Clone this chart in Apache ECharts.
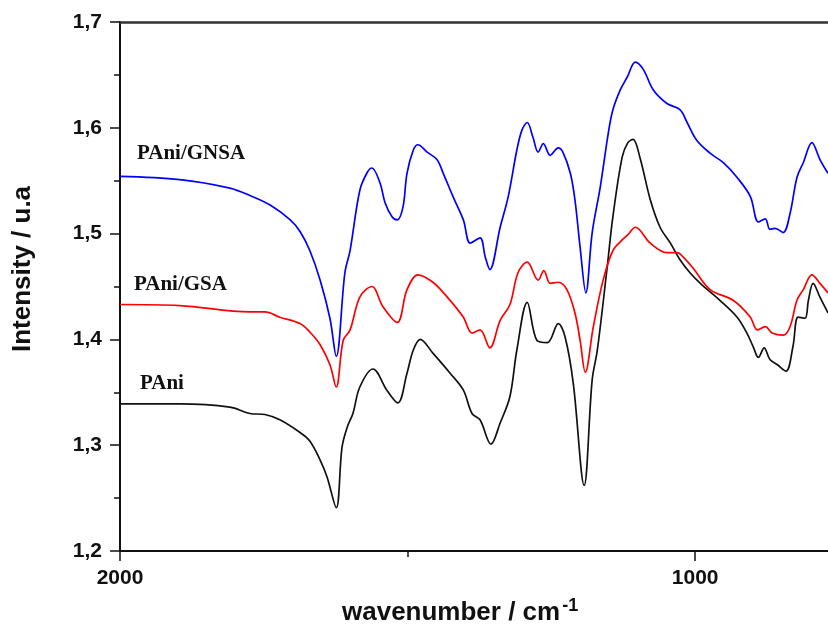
<!DOCTYPE html>
<html>
<head>
<meta charset="utf-8">
<script src="https://cdn.jsdelivr.net/npm/echarts@6/dist/echarts.min.js"></script>
<style>html,body{margin:0;padding:0;background:#fff}#c{width:828px;height:630px}</style>
</head>
<body>
<div id="c"></div>
<script>
// PAni/GNSA (blue)
const gnsaWn = [2000,1896,1809,1774,1739,1704,1687,1670,1652,1635,1624,1609,1600,1583,1570,1562,1548,1539,1527,1518,1508,1501,1490,1482,1466,1449,1438,1421,1403,1391,1374,1365,1357,1339,1325,1310,1301,1292,1282,1273,1264,1252,1238,1230,1217,1209,1200,1190,1179,1165,1151,1143,1130,1118,1104,1090,1073,1049,1026,1014,997,974,951,927,904,890,878,870,861,847,835,823,812,797,783,769];
const gnsaI  = [1.554,1.551,1.543,1.536,1.527,1.513,1.502,1.484,1.456,1.420,1.384,1.463,1.484,1.541,1.558,1.562,1.548,1.529,1.516,1.513,1.525,1.557,1.579,1.584,1.577,1.570,1.557,1.535,1.513,1.491,1.496,1.478,1.466,1.506,1.535,1.579,1.598,1.605,1.591,1.577,1.585,1.574,1.581,1.577,1.557,1.532,1.487,1.444,1.501,1.544,1.595,1.617,1.636,1.648,1.662,1.655,1.636,1.623,1.617,1.605,1.588,1.576,1.567,1.553,1.535,1.511,1.514,1.504,1.505,1.501,1.519,1.553,1.567,1.586,1.570,1.557];
// PAni/GSA (red)
const gsaWn = [2000,1896,1774,1748,1722,1687,1670,1652,1635,1624,1612,1600,1583,1562,1543,1518,1501,1482,1456,1431,1403,1388,1374,1357,1339,1322,1308,1292,1273,1263,1252,1238,1223,1209,1200,1191,1177,1160,1143,1127,1117,1104,1078,1049,1031,1021,1003,974,934,904,892,878,866,847,835,823,812,797,783,769];
const gsaI  = [1.433,1.432,1.426,1.426,1.421,1.415,1.407,1.395,1.376,1.355,1.399,1.409,1.440,1.450,1.431,1.416,1.447,1.461,1.454,1.440,1.421,1.406,1.409,1.392,1.418,1.433,1.463,1.473,1.456,1.465,1.453,1.454,1.447,1.425,1.399,1.369,1.412,1.456,1.484,1.494,1.499,1.506,1.491,1.482,1.482,1.478,1.467,1.447,1.437,1.421,1.409,1.412,1.406,1.404,1.412,1.437,1.447,1.461,1.453,1.444];
// PAni (black)
const paniWn = [2000,1896,1809,1774,1748,1722,1687,1670,1652,1640,1624,1614,1605,1595,1583,1560,1536,1517,1501,1490,1478,1456,1426,1403,1388,1374,1355,1339,1322,1310,1292,1275,1257,1238,1226,1212,1193,1179,1170,1153,1143,1127,1117,1108,1096,1078,1061,1043,1026,1009,991,957,927,910,899,890,880,870,857,842,830,821,809,803,795,783,769];
const paniI  = [1.339,1.339,1.336,1.330,1.329,1.324,1.312,1.304,1.286,1.270,1.241,1.298,1.317,1.330,1.355,1.372,1.352,1.340,1.368,1.390,1.400,1.387,1.368,1.352,1.330,1.324,1.301,1.321,1.346,1.390,1.435,1.399,1.397,1.415,1.402,1.359,1.262,1.362,1.390,1.468,1.516,1.572,1.586,1.589,1.572,1.532,1.506,1.491,1.475,1.463,1.453,1.437,1.421,1.406,1.393,1.383,1.392,1.381,1.376,1.370,1.393,1.421,1.420,1.437,1.453,1.440,1.425];
const yTicks = [1.2,1.3,1.4,1.5,1.6,1.7];
const xMajor = [2000,1000];
const xMinor = [1500];
const xRange = [769,2000];
const seriesNames = ['PAni/GNSA','PAni/GSA','PAni'];

const pairs = (a,b) => a.map((v,i)=>[v,b[i]]);
const chart = echarts.init(document.getElementById('c'), null, {renderer:'canvas'});
const axisFont = {fontFamily:'Liberation Sans, Arial, sans-serif', fontWeight:'bold', fontSize:21, color:'#111'};
const lbl = (t,x,y)=>({type:'text', left:x, top:y, style:{text:t, font:"bold 21px 'Liberation Serif', 'Times New Roman', serif", fill:'#111'}});
chart.setOption({
  animation:false,
  backgroundColor:'#fff',
  grid:{left:120, top:22, right:0, bottom:79},
  xAxis:[{
    type:'value', inverse:true, min:xRange[0], max:xRange[1],
    axisLine:{onZero:false, lineStyle:{color:'#111', width:2}},
    axisTick:{show:true, length:10, customValues:xMajor, lineStyle:{color:'#111', width:1.5}},
    axisLabel:Object.assign({margin:17, customValues:xMajor, formatter:v=>String(v)}, axisFont),
    splitLine:{show:false}
  },{
    type:'value', inverse:true, min:xRange[0], max:xRange[1], position:'bottom',
    axisLine:{show:false, onZero:false},
    axisTick:{show:true, length:6, customValues:xMinor, lineStyle:{color:'#111', width:1.5}},
    axisLabel:{show:false}, splitLine:{show:false}
  },{
    type:'value', inverse:true, min:xRange[0], max:xRange[1], position:'top',
    axisLine:{onZero:false, lineStyle:{color:'#333', width:2.5}},
    axisTick:{show:false}, axisLabel:{show:false}, splitLine:{show:false}
  }],
  yAxis:{
    type:'value', min:1.2, max:1.7, interval:0.1,
    axisLine:{show:true, onZero:false, lineStyle:{color:'#111', width:2}},
    axisTick:{show:true, length:10, lineStyle:{color:'#111', width:1.5}},
    minorTick:{show:true, splitNumber:2, length:6, lineStyle:{color:'#111', width:1.5}},
    axisLabel:Object.assign({margin:18, formatter:v=>{const t=yTicks.find(k=>Math.abs(k-v)<1e-6);return t===undefined?'':t.toFixed(1).replace('.',',');}}, axisFont),
    splitLine:{show:false}
  },
  series:[
    {name:seriesNames[0], type:'line', data:pairs(gnsaWn,gnsaI), smooth:0.35, showSymbol:false, lineStyle:{color:'#0000ff', width:1.7}, z:3},
    {name:seriesNames[1], type:'line', data:pairs(gsaWn,gsaI), smooth:0.35, showSymbol:false, lineStyle:{color:'#ff0000', width:1.7}, z:2},
    {name:seriesNames[2], type:'line', data:pairs(paniWn,paniI), smooth:0.35, showSymbol:false, lineStyle:{color:'#111111', width:1.7}, z:1}
  ],
  graphic:[
    lbl(seriesNames[0],137,143),
    lbl(seriesNames[1],134,274),
    lbl(seriesNames[2],140,373),
    {type:'text', left:342, top:597, style:{rich:{a:{font:"bold 26px 'Liberation Sans', Arial, sans-serif", fill:'#111'}, s:{font:"bold 18px 'Liberation Sans', Arial, sans-serif", fill:'#111', verticalAlign:'top', padding:[0,0,14,2]}}, text:'{a|wavenumber / cm}{s|-1}'}},
    {type:'text', x:23, y:269, rotation:Math.PI/2, style:{text:'Intensity / u.a', font:"bold 26px 'Liberation Sans', Arial, sans-serif", fill:'#111', align:'center', verticalAlign:'middle'}}
  ]
});
</script>
</body>
</html>
